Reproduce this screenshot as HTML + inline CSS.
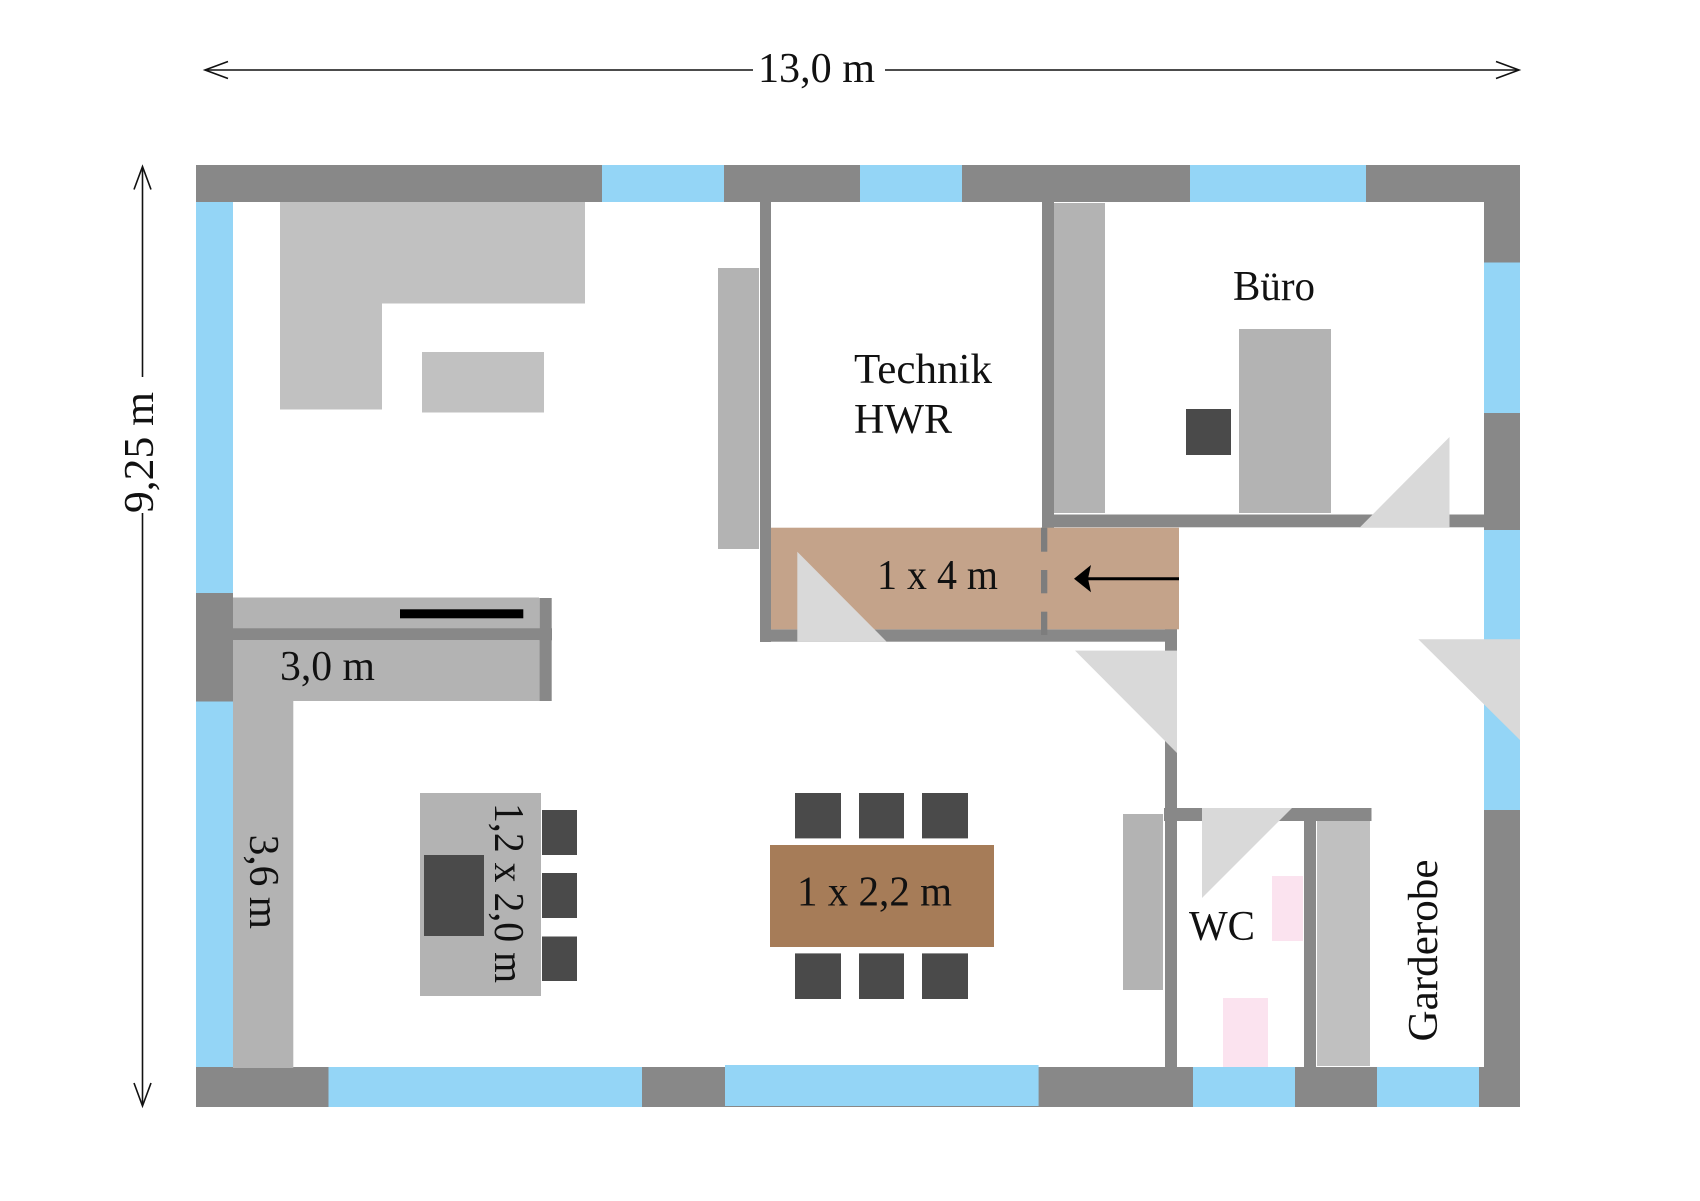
<!DOCTYPE html>
<html><head><meta charset="utf-8"><style>
html,body{margin:0;padding:0;background:#fff;}
svg{display:block;}
text{font-family:"Liberation Serif",serif;font-size:42px;fill:#111;}
</style></head><body>
<svg width="1700" height="1201" viewBox="0 0 1700 1201" xmlns="http://www.w3.org/2000/svg">
<rect width="1700" height="1201" fill="#fff"/>

<!-- Dimension arrows -->
<g stroke="#111" stroke-width="1.6" fill="none">
  <line x1="206" y1="70" x2="753" y2="70"/>
  <line x1="885" y1="70" x2="1518" y2="70"/>
  <polyline points="228,61.5 205,70 228,78.5"/>
  <polyline points="1496,61.5 1519,70 1496,78.5"/>
  <line x1="142.5" y1="167" x2="142.5" y2="377"/>
  <line x1="142.5" y1="513" x2="142.5" y2="1105"/>
  <polyline points="134,189.5 142.5,166.5 151,189.5"/>
  <polyline points="134,1083 142.5,1106 151,1083"/>
</g>
<text x="758" y="82" textLength="117" lengthAdjust="spacingAndGlyphs">13,0 m</text>
<text transform="translate(153,513) rotate(-90)" textLength="121" lengthAdjust="spacingAndGlyphs">9,25 m</text>

<!-- Outer walls -->
<rect x="196" y="165" width="1324" height="37" fill="#888"/>
<rect x="196" y="1067" width="1324" height="40" fill="#888"/>
<rect x="196" y="165" width="37" height="942" fill="#888"/>
<rect x="1484" y="165" width="36" height="942" fill="#888"/>

<!-- Windows -->
<g fill="#94d5f6">
  <rect x="602" y="165" width="122" height="37"/>
  <rect x="860" y="165" width="102" height="37"/>
  <rect x="1190" y="165" width="176" height="37"/>
  <rect x="196" y="202" width="37" height="391"/>
  <rect x="196" y="701.5" width="37" height="365.5"/>
  <rect x="1484" y="262.5" width="36" height="150.5"/>
  <rect x="1484" y="530" width="36" height="280"/>
  <rect x="328.5" y="1067" width="313.5" height="40"/>
  <rect x="725" y="1065" width="313.6" height="41"/>
  <rect x="1193" y="1067" width="102" height="40"/>
  <rect x="1377" y="1067" width="102" height="40"/>
</g>

<!-- Interior walls -->
<g fill="#888">
  <rect x="760" y="202" width="11" height="440"/>
  <rect x="760" y="629.3" width="417" height="12.4"/>
  <rect x="1042" y="202" width="12" height="326"/>
  <rect x="1042" y="514.5" width="442" height="12.8"/>
  <rect x="1165" y="629" width="12" height="438"/>
  <rect x="1164" y="808" width="207.5" height="13"/>
  <rect x="1304" y="821" width="12" height="246"/>
</g>

<!-- Top-left furniture -->
<g fill="#c1c1c1">
  <rect x="280" y="202" width="305" height="101.5"/>
  <rect x="280" y="303" width="102" height="106.5"/>
  <rect x="422" y="352" width="122" height="60.5"/>
</g>
<rect x="718" y="268" width="41" height="281" fill="#b3b3b3"/>

<!-- Kitchen -->
<rect x="233" y="597.5" width="306" height="31" fill="#b3b3b3"/>
<rect x="233" y="628.3" width="319" height="12" fill="#888"/>
<rect x="539.3" y="598" width="12.4" height="103" fill="#888"/>
<rect x="233" y="640" width="306.3" height="61" fill="#b3b3b3"/>
<rect x="400" y="609.3" width="123.3" height="9" fill="#000"/>
<rect x="233" y="701" width="60.3" height="367" fill="#b3b3b3"/>
<text x="280" y="680" textLength="95" lengthAdjust="spacingAndGlyphs">3,0 m</text>
<text transform="translate(250,834.6) rotate(90)" textLength="94.4" lengthAdjust="spacingAndGlyphs">3,6 m</text>

<!-- Island -->
<rect x="420" y="793" width="121" height="203" fill="#b3b3b3"/>
<rect x="424" y="855" width="60" height="81" fill="#4a4a4a"/>
<g fill="#4a4a4a">
  <rect x="542" y="810" width="35" height="45"/>
  <rect x="542" y="873" width="35" height="45"/>
  <rect x="542" y="936.5" width="35" height="44.5"/>
</g>
<text transform="translate(495,803) rotate(90)" textLength="180" lengthAdjust="spacingAndGlyphs">1,2 x 2,0 m</text>

<!-- Dining -->
<rect x="770" y="845" width="224" height="102" fill="#a67c58"/>
<g fill="#4a4a4a">
  <rect x="795" y="793" width="46" height="45.4"/>
  <rect x="859" y="793" width="45" height="45.4"/>
  <rect x="922" y="793" width="46" height="45.4"/>
  <rect x="795" y="953.4" width="46" height="45.6"/>
  <rect x="859" y="953.4" width="45" height="45.6"/>
  <rect x="922" y="953.4" width="46" height="45.6"/>
</g>
<text x="797" y="905.5" textLength="155" lengthAdjust="spacingAndGlyphs">1 x 2,2 m</text>

<!-- HWR label -->
<text x="854" y="383" textLength="138" lengthAdjust="spacingAndGlyphs">Technik</text>
<text x="854" y="433" textLength="98" lengthAdjust="spacingAndGlyphs">HWR</text>

<!-- Büro -->
<rect x="1054" y="203" width="51" height="310" fill="#b3b3b3"/>
<rect x="1239" y="329" width="92" height="184" fill="#b3b3b3"/>
<rect x="1186" y="409" width="45" height="46" fill="#4a4a4a"/>
<text x="1233" y="300" textLength="82" lengthAdjust="spacingAndGlyphs">Büro</text>

<!-- Brown corridor -->
<rect x="771" y="527.7" width="408" height="101.6" fill="#c4a38a"/>
<g fill="#7d7d7d">
  <rect x="1041" y="527.7" width="6.3" height="24"/>
  <rect x="1041" y="570" width="6.3" height="23.3"/>
  <rect x="1041" y="611.7" width="6.3" height="23.3"/>
</g>
<line x1="1088" y1="578.7" x2="1179" y2="578.7" stroke="#000" stroke-width="3"/>
<polygon points="1074,578.7 1091,565 1088,578.7 1091,592.3" fill="#000"/>
<text x="877" y="589" textLength="121" lengthAdjust="spacingAndGlyphs">1 x 4 m</text>

<!-- Door swings -->
<g fill="#d9d9d9">
  <polygon points="797.3,551.7 797.3,641.7 886.7,641.7"/>
  <polygon points="1359.5,527.7 1449.5,437 1449.5,527.7"/>
  <polygon points="1075,650.6 1177,650.6 1177,753"/>
  <polygon points="1202,808 1292,808 1202,898"/>
  <polygon points="1418.3,639.3 1520,639.3 1520,740"/>
</g>

<!-- Living cabinet near WC wall -->
<rect x="1123" y="814" width="40" height="176" fill="#b3b3b3"/>

<!-- WC -->
<g fill="#fbe3ef">
  <rect x="1272" y="876" width="31" height="65"/>
  <rect x="1223" y="998" width="45" height="69"/>
</g>
<text x="1189" y="940" textLength="66" lengthAdjust="spacingAndGlyphs">WC</text>

<!-- Garderobe -->
<rect x="1317" y="821" width="53" height="245" fill="#c0c0c0"/>
<text transform="translate(1437,1041.5) rotate(-90)" textLength="182" lengthAdjust="spacingAndGlyphs">Garderobe</text>
</svg>
</body></html>
